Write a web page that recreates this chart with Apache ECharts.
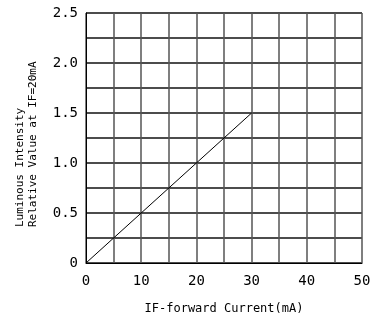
<!DOCTYPE html>
<html><head><meta charset="utf-8">
<script src="https://cdn.jsdelivr.net/npm/echarts@6/dist/echarts.min.js"></script>
<style>html,body{margin:0;padding:0;background:#fff}#c{width:379px;height:320px}</style>
</head><body><div id="c"></div>
<script>
const currentX = [0, 30];
const intensityY = [0, 1.5];
const xTicks = [0, 10, 20, 30, 40, 50];
const yTicks = ['0', '0.5', '1.0', '1.5', '2.0', '2.5'];
const xName = 'IF-forward Current(mA)';
const yNameLines = ['Luminous Intensity', 'Relative Value at IF=20mA'];

const font = 'DejaVu Sans Mono';
const chart = echarts.init(document.getElementById('c'));
chart.setOption({
  animation: false,
  grid: {left: 86, right: 17, top: 13, bottom: 57, containLabel: false, outerBoundsMode: 'none'},
  graphic: [
    {type: 'text', x: 20, y: 227, rotation: Math.PI / 2,
     style: {text: yNameLines[0], font: '11px "DejaVu Sans Mono"', fill: '#000', textAlign: 'left', textVerticalAlign: 'middle'}},
    {type: 'text', x: 33, y: 227, rotation: Math.PI / 2,
     style: {text: yNameLines[1], font: '11px "DejaVu Sans Mono"', fill: '#000', textAlign: 'left', textVerticalAlign: 'middle'}}
  ],
  xAxis: {
    type: 'value', min: 0, max: 50, interval: 5,
    name: xName, nameLocation: 'middle', nameGap: 40,
    nameTextStyle: {fontFamily: font, fontSize: 12, color: '#000'},
    axisLine: {show: true, lineStyle: {color: '#000', width: 1}},
    axisTick: {show: false},
    axisLabel: {fontFamily: font, fontSize: 14, color: '#000', margin: 11,
      formatter: v => xTicks.includes(v) ? String(v) : ''},
    splitLine: {show: true, lineStyle: {color: '#555', width: 1.5}}
  },
  yAxis: {
    type: 'value', min: 0, max: 2.5, interval: 0.25,
    axisLine: {show: true, lineStyle: {color: '#000', width: 1}},
    axisTick: {show: false},
    axisLabel: {fontFamily: font, fontSize: 14, color: '#000', margin: 8,
      formatter: v => { const i = Math.round(v / 0.5); return Math.abs(v - i * 0.5) < 1e-6 ? yTicks[i] : ''; }},
    splitLine: {show: true, lineStyle: {color: '#111', width: 1.5}}
  },
  series: [{
    type: 'line',
    data: currentX.map((x, i) => [x, intensityY[i]]),
    showSymbol: false,
    lineStyle: {color: '#000', width: 1}
  }]
});
</script></body></html>
